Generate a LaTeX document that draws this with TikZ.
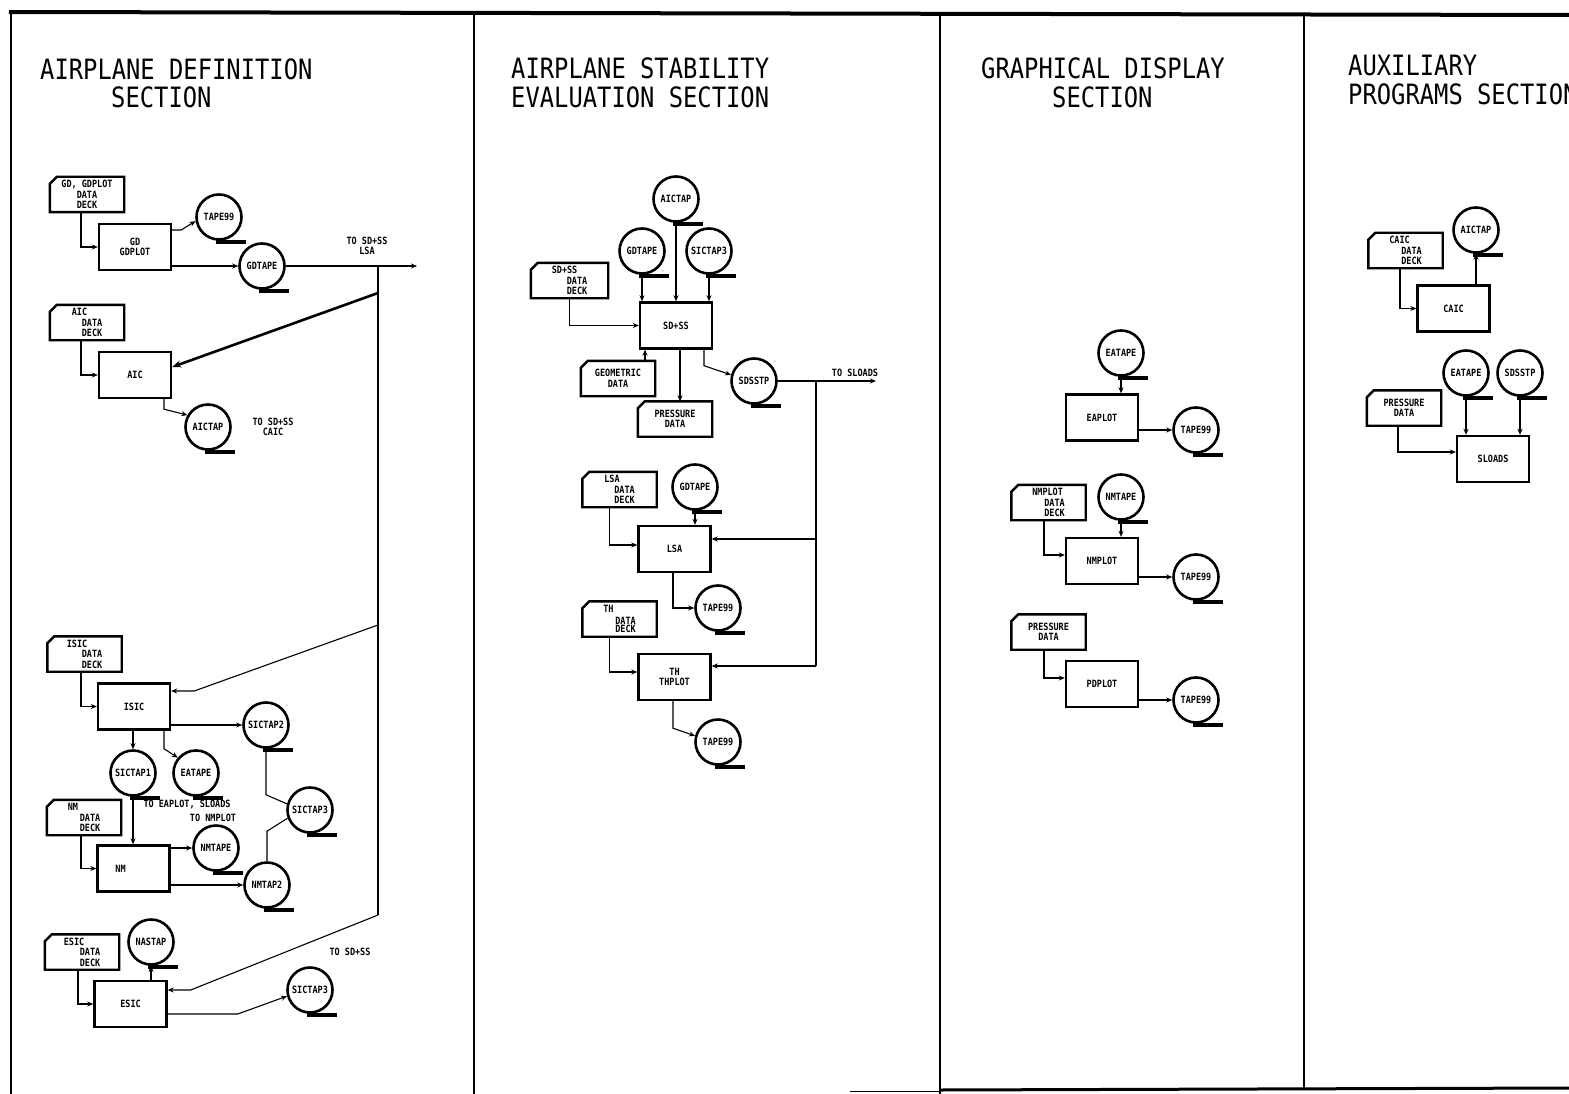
\documentclass[tikz,border=0pt]{standalone}
\usepackage{fontspec}
\newfontfamily\dmono[FakeStretch=0.85]{DejaVu Sans Mono}
\usetikzlibrary{arrows.meta}
\tikzset{
 every node/.style={inner sep=0pt},
 title/.style={font=\dmono\fontsize{28}{30}\selectfont, anchor=base west},
 lbl/.style={font=\dmono\bfseries\fontsize{10}{10.5}\selectfont, align=center},
 procbox/.style={lbl, draw, line width=2.4pt, minimum width=72pt, minimum height=46pt},
 tapenode/.style={lbl, circle, draw, line width=2.6pt, minimum size=45pt},
 tapetail/.style={line width=4pt},
 cardnode/.style={lbl, minimum width=74pt, minimum height=35pt},
 cardline/.style={line width=2.4pt, line join=miter},
 conn/.style={line width=1.1pt},
 arr/.style={conn, -{Stealth[length=6pt,width=5pt]}},
 bigarr/.style={line width=2.6pt, -{Stealth[length=9pt,width=7pt]}},
 frame/.style={line width=2pt},
}
\newcommand\tapereel[4]{\node[tapenode] (#1) at (#2,#3) {#4};
 \draw[tapetail] ([xshift=-3pt,yshift=-1pt]#1.south) -- ++(30,0);}
\newcommand\datacard[5][]{\node[cardnode,#1] (#2) at (#3,#4) {#5};
 \draw[cardline] ([xshift=7pt]#2.north west) -- (#2.north east) -- (#2.south east) -- (#2.south west) -- ([yshift=-7pt]#2.north west) -- cycle;}
\begin{document}
\begin{tikzpicture}[x=1pt,y=-1pt]
\useasboundingbox (0,0) rectangle (1569,1094);
\fill[white] (0,0) rectangle (1569,1094);
% frame
\draw[line width=4pt] (9,12) -- (1569,15);
\draw[frame] (11,12) -- (11,1094);
\draw[frame] (474,12) -- (474,1094);
\draw[frame] (940,13) -- (940,1094);
\draw[frame] (1304,14) -- (1304,1090);
\draw[line width=1pt] (850,1091) -- (940,1091);
\draw[line width=3pt] (940,1090) -- (1569,1088);
% titles
\node[title] (t1a) at (40,80) {AIRPLANE DEFINITION};
\node[title] (t1b) at (111,108) {SECTION};
\node[title] (t2a) at (511,79) {AIRPLANE STABILITY};
\node[title] (t2b) at (511,108) {EVALUATION SECTION};
\node[title] (t3a) at (981,79) {GRAPHICAL DISPLAY};
\node[title] (t3b) at (1052,108) {SECTION};
\node[title] (t4a) at (1348,76) {AUXILIARY};
\node[title] (t4b) at (1348,105) {PROGRAMS SECTION};

% ===== Airplane definition section =====
\datacard{gdcard}{87}{194.5}{GD, GDPLOT\\DATA\\DECK}
\node[procbox] (gdbox) at (135,247) {GD\\GDPLOT};
\tapereel{tapeA}{219}{217}{TAPE99}
\tapereel{gdtape}{262}{266}{GDTAPE}
\draw[arr] ([xshift=-6pt]gdcard.south) |- (gdbox.west);
\draw[arr] ([yshift=17pt]gdbox.east) -- ++(9,0) -- (tapeA.190);
\draw[arr] (gdbox.east |- gdtape.west) -- (gdtape.west);
\coordinate (toLSA) at (417,266);
\coordinate (busTop) at (378,266);
\coordinate (busAIC) at (378,293);
\coordinate (busISIC) at (378,625);
\coordinate (busBot) at (378,915);
\draw[arr] (gdtape.east) -- (toLSA);
\node[lbl] (lblLSA) at (367,246) {TO SD+SS\\LSA};
\draw[conn] (busTop) -- (busBot);

\datacard[align=left]{aiccard}{87}{322.5}{AIC\\\hspace*{10pt}DATA\\\hspace*{10pt}DECK}
\node[procbox] (aicbox) at (135,375) {AIC};
\tapereel{aictapL}{208}{427}{AICTAP}
\draw[arr] ([xshift=-6pt]aiccard.south) |- (aicbox.west);
\draw[bigarr] (busAIC) -- ([yshift=8pt]aicbox.east);
\draw[arr] ([xshift=29pt]aicbox.south) -- ++(0,10) -- (aictapL.150);
\node[lbl] (lblCAIC) at (273,427) {TO SD+SS\\CAIC};

\datacard[align=left]{isiccard}{84.5}{654}{ISIC\\\hspace*{15pt}DATA\\\hspace*{15pt}DECK}
\node[procbox] (isicbox) at (134,706.5) {ISIC};
\tapereel{sictap2}{266}{725}{SICTAP2}
\tapereel{sictap1}{133}{773}{SICTAP1}
\tapereel{eatapeL}{196}{773}{EATAPE}
\tapereel{sictap3a}{310}{810}{SICTAP3}
\draw[arr] ([xshift=-3.5pt]isiccard.south) |- (isicbox.west);
\draw[arr] (busISIC) -- ([xshift=23pt,yshift=15.5pt]isicbox.east) -- ([yshift=15.5pt]isicbox.east);
\draw[arr] (isicbox.east |- sictap2.west) -- (sictap2.west);
\draw[arr] (isicbox.south -| sictap1.north) -- (sictap1.north);
\draw[arr] ([xshift=30pt]isicbox.south) -- ++(0,18) -- (eatapeL.140);
\node[lbl] (lblEA) at (187,804) {TO EAPLOT, SLOADS};
\node[lbl] (lblNMP) at (213,818) {TO NMPLOT};

\datacard[align=left]{nmcard}{84}{817.5}{NM\\\hspace*{12pt}DATA\\\hspace*{12pt}DECK}
\node[procbox] (nmbox) at (133.5,868.5) {NM\hspace*{26pt}};
\tapereel{nmtape}{216}{848}{NMTAPE}
\tapereel{nmtap2}{267}{885}{NMTAP2}
\draw[conn] (sictap2.south) -- ++(0,46) -- (sictap3a.165);
\draw[conn] (sictap3a.200) -- ([yshift=30pt]nmtap2.north) -- (nmtap2.north);
\draw[arr] (sictap1.south) -- (sictap1.south |- nmbox.north);
\draw[arr] ([xshift=-3pt]nmcard.south) |- (nmbox.west);
\draw[arr] (nmbox.east |- nmtape.west) -- (nmtape.west);
\draw[arr] (nmbox.east |- nmtap2.west) -- (nmtap2.west);

\datacard[align=left]{esiccard}{82}{952}{ESIC\\\hspace*{16pt}DATA\\\hspace*{16pt}DECK}
\node[procbox] (esicbox) at (130.5,1004) {ESIC};
\tapereel{nastap}{151}{942}{NASTAP}
\tapereel{sictap3b}{310}{990}{SICTAP3}
\draw[arr] ([xshift=-4pt]esiccard.south) |- (esicbox.west);
\draw[arr] (esicbox.north -| nastap.south) -- (nastap.south);
\draw[arr] (busBot) -- ([xshift=23pt,yshift=14pt]esicbox.east) -- ([yshift=14pt]esicbox.east);
\draw[arr] ([yshift=-10pt]esicbox.east) -- ([xshift=70pt,yshift=-10pt]esicbox.east) -- (sictap3b.195);
\node[lbl] (lblSD) at (350,952) {TO SD+SS};

% ===== Airplane stability evaluation section =====
\tapereel{aictapM}{676}{199}{AICTAP}
\tapereel{gdtapeM}{642}{251}{GDTAPE}
\tapereel{sictap3M}{709}{251}{SICTAP3}
\datacard[align=left, minimum width=77pt]{sdsscard}{569.5}{280.5}{SD+SS\\\hspace*{15pt}DATA\\\hspace*{15pt}DECK}
\node[procbox] (sdssbox) at (676,325.5) {SD+SS};
\draw[arr] (sdsscard.south) |- (sdssbox.west);
\draw[arr] (gdtapeM.south) -- (gdtapeM.south |- sdssbox.north);
\draw[arr] (aictapM.south) -- (aictapM.south |- sdssbox.north);
\draw[arr] (sictap3M.south) -- (sictap3M.south |- sdssbox.north);
\datacard{geocard}{618}{378.5}{GEOMETRIC\\DATA}
\draw[arr] ([xshift=27pt]geocard.north) -- ([xshift=27pt]geocard.north |- sdssbox.south);
\datacard{prescardM}{675}{419}{PRESSURE\\DATA}
\draw[arr] ([xshift=4pt]sdssbox.south) -- ([xshift=4pt]sdssbox.south |- prescardM.north);
\tapereel{sdsstp}{754}{381}{SDSSTP}
\draw[arr] ([xshift=28pt]sdssbox.south) -- ++(0,16) -- (sdsstp.165);
\coordinate (toSloads) at (876,381);
\coordinate (mBusTop) at (816,381);
\coordinate (mBusLSA) at (816,539);
\coordinate (mBusTH) at (816,666);
\draw[arr] (sdsstp.east) -- (toSloads);
\node[lbl] (lblSL) at (855,373) {TO SLOADS};
\draw[conn] (mBusTop) -- (mBusTH);

\tapereel{gdtapeL}{695}{487}{GDTAPE}
\datacard[align=left]{lsacard}{619.5}{489.5}{LSA\\\hspace*{10pt}DATA\\\hspace*{10pt}DECK}
\node[procbox] (lsabox) at (674.5,549) {LSA};
\draw[arr] ([xshift=-10pt]lsacard.south) |- ([yshift=4pt]lsabox.west);
\draw[arr] (gdtapeL.south) -- (gdtapeL.south |- lsabox.north);
\draw[arr] (mBusLSA) -- (lsabox.east |- mBusLSA);
\tapereel{tapeL}{718}{608}{TAPE99}
\draw[arr] ([xshift=-1.5pt]lsabox.south) |- (tapeL.west);

\datacard[align=left]{thcard}{619.5}{619}{TH\\[1pt]\hspace*{12pt}DATA\\[-2pt]\hspace*{12pt}DECK}
\node[procbox] (thbox) at (674.5,677) {TH\\THPLOT};
\draw[arr] ([xshift=-10pt]thcard.south) |- ([yshift=5pt]thbox.west);
\draw[arr] (mBusTH) -- (thbox.east |- mBusTH);
\tapereel{tapeT}{718}{742}{TAPE99}
\draw[arr] ([xshift=-1.5pt]thbox.south) -- ++(0,27) -- (tapeT.165);

% ===== Graphical display section =====
\tapereel{eatapeG}{1121}{353}{EATAPE}
\node[procbox] (eaplot) at (1102,417.5) {EAPLOT};
\draw[arr] (eatapeG.south) -- (eatapeG.south |- eaplot.north);
\tapereel{tapeG1}{1196}{430}{TAPE99}
\draw[arr] (eaplot.east |- tapeG1.west) -- (tapeG1.west);

\datacard[align=left]{nmplotcard}{1048.5}{502.5}{NMPLOT\\\hspace*{12pt}DATA\\\hspace*{12pt}DECK}
\tapereel{nmtapeG}{1121}{497}{NMTAPE}
\node[procbox] (nmplot) at (1102,561) {NMPLOT};
\draw[arr] ([xshift=-4.5pt]nmplotcard.south) |- ([yshift=6pt]nmplot.west);
\draw[arr] (nmtapeG.south) -- (nmtapeG.south |- nmplot.north);
\tapereel{tapeG2}{1196}{577}{TAPE99}
\draw[arr] (nmplot.east |- tapeG2.west) -- (tapeG2.west);

\datacard{prescardG}{1048.5}{632}{PRESSURE\\DATA}
\node[procbox] (pdplot) at (1102,684) {PDPLOT};
\draw[arr] ([xshift=-4.5pt]prescardG.south) |- ([yshift=6pt]pdplot.west);
\tapereel{tapeG3}{1196}{700}{TAPE99}
\draw[arr] (pdplot.east |- tapeG3.west) -- (tapeG3.west);

% ===== Auxiliary programs section =====
\datacard[align=left]{caiccard}{1405.5}{250.5}{CAIC\\\hspace*{12pt}DATA\\\hspace*{12pt}DECK}
\tapereel{aictapA}{1476}{230}{AICTAP}
\node[procbox] (caicbox) at (1453.5,308.5) {CAIC};
\draw[arr] ([xshift=-5.5pt]caiccard.south) |- (caicbox.west);
\draw[arr] (caicbox.north -| aictapA.south) -- (aictapA.south);

\datacard{prescardA}{1404}{408}{PRESSURE\\DATA}
\tapereel{eatapeA}{1466}{373}{EATAPE}
\tapereel{sdsstpA}{1520}{373}{SDSSTP}
\node[procbox] (sloads) at (1493,459) {SLOADS};
\draw[arr] ([xshift=-6pt]prescardA.south) |- ([yshift=7pt]sloads.west);
\draw[arr] (eatapeA.south) -- (eatapeA.south |- sloads.north);
\draw[arr] (sdsstpA.south) -- (sdsstpA.south |- sloads.north);
\end{tikzpicture}
\end{document}
